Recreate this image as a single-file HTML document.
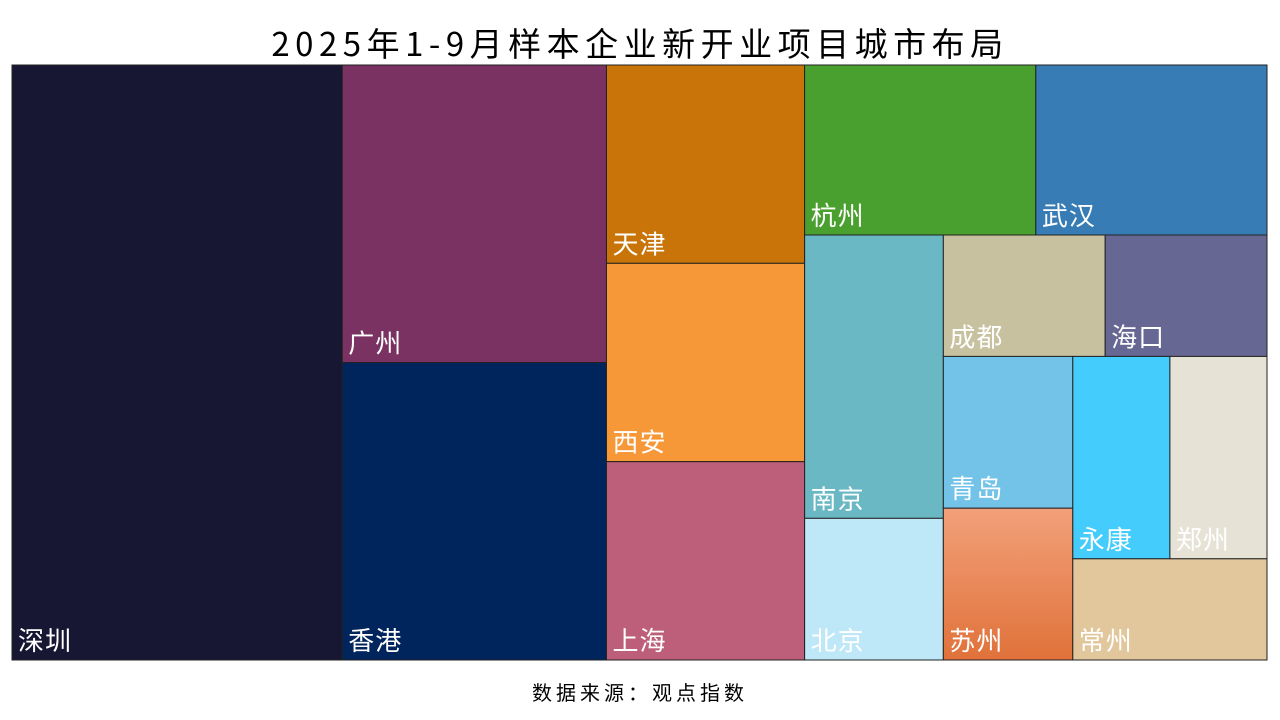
<!DOCTYPE html>
<html><head><meta charset="utf-8"><style>
body{margin:0;width:1280px;height:720px;background:#fff;font-family:"Liberation Sans","Noto Sans CJK SC",sans-serif;overflow:hidden}
#title{position:absolute;left:0;top:18px;width:1280px;text-align:center;font-size:33px;color:#000;line-height:48px;letter-spacing:5.5px;font-family:"Noto Sans CJK SC",sans-serif}
#src{position:absolute;left:0;top:677px;width:1280px;text-align:center;font-size:20px;color:#000;letter-spacing:4px}
svg{position:absolute;left:0;top:0}
</style></head><body>
<div id="title">2025年1-9月样本企业新开业项目城市布局</div>
<svg id="chart" width="1280" height="720">
<defs><linearGradient id="gsz" x1="0" y1="0" x2="0" y2="1"><stop offset="0" stop-color="#f2a07a"/><stop offset="1" stop-color="#e0723a"/></linearGradient></defs>
</svg>
<div id="src">数据来源：观点指数</div>
<script>
const cities=["深圳","广州","香港","天津","西安","上海","杭州","武汉","南京","北京","成都","海口","青岛","苏州","永康","郑州","常州"];
const values=[10,4,4,2,2,2,2,2,2,1,1,1,1,1,1,1,1];
const colors=["#171733","#7a3263","#00245c","#c87408","#f69838","#bd5f7a","#4aa02e","#377cb4","#6bb8c5","#bee7f7","#c8c19f","#676793","#73c3e8","url(#gsz)","#44ccfc","#e6e3d6","#e2c69c"];
const strips=[1,2,3,2,2,2,2,2,1];
const svg=document.getElementById('chart');
const NS='http://www.w3.org/2000/svg';
let rect={x:12,y:65,w:1255,h:595};
const total=values.reduce((a,b)=>a+b,0);
const scale=rect.w*rect.h/total;
let idx=0;
for(const n of strips){
  const items=values.slice(idx,idx+n);
  const sum=items.reduce((a,b)=>a+b,0)*scale;
  const vertical=rect.w>=rect.h;
  const side=vertical?rect.h:rect.w;
  const thick=sum/side;
  let off=0;
  items.forEach((v,k)=>{
    const len=v*scale/thick;
    let x,y,w,h;
    if(vertical){x=rect.x;y=rect.y+off;w=thick;h=len;}else{x=rect.x+off;y=rect.y;w=len;h=thick;}
    off+=len;
    const i=idx+k;
    const r=document.createElementNS(NS,'rect');
    r.setAttribute('x',x);r.setAttribute('y',y);r.setAttribute('width',w);r.setAttribute('height',h);
    r.setAttribute('fill',colors[i]);r.setAttribute('stroke','#222');r.setAttribute('stroke-width','1');
    
    
    svg.appendChild(r);
    const t=document.createElementNS(NS,'text');
    t.setAttribute('x',x+6);t.setAttribute('y',y+h-10);
    t.setAttribute('fill','#fff');t.setAttribute('font-size','26');
    t.setAttribute('letter-spacing','1');
    t.setAttribute('font-family','"Noto Sans CJK SC",sans-serif');
    t.textContent=cities[i];
    
    
    svg.appendChild(t);
  });
  if(vertical){rect={x:rect.x+thick,y:rect.y,w:rect.w-thick,h:rect.h};}
  else{rect={x:rect.x,y:rect.y+thick,w:rect.w,h:rect.h-thick};}
  idx+=n;
}
</script>
</body></html>
